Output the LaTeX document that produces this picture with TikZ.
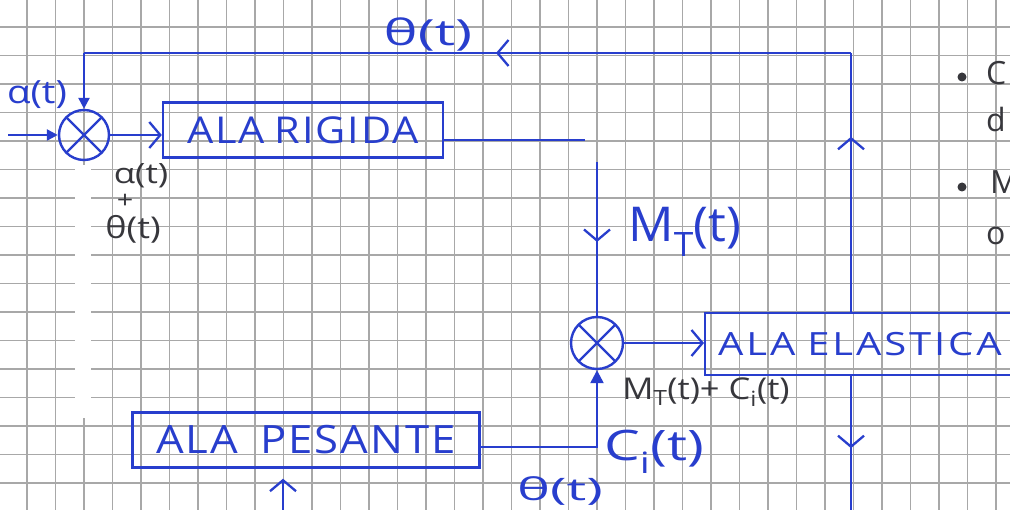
\documentclass[tikz,border=0pt]{standalone}
\usepackage{fontspec}
\setmainfont{Open Sans}
\usetikzlibrary{arrows.meta,decorations.markings}
\definecolor{inkblue}{RGB}{40,62,205}
\definecolor{pencil}{RGB}{55,55,60}
\definecolor{gridgray}{RGB}{168,168,168}
\newcommand{\hf}[2]{\fontsize{#1}{#1}\selectfont\addfontfeature{FakeStretch=#2}}
\tikzset{
  openbarb/.tip={Straight Barb[length=11pt,width=26pt,line width=2.3pt]},
  fillhead/.tip={Triangle[length=11pt,width=11pt]},
  gridline/.style={draw=gridgray, line width=1.1pt},
  ink/.style={draw=inkblue, line width=2.4pt},
  blk/.style={ink, rectangle, inner sep=0pt, text=inkblue},
  sumnode/.style={ink, circle, minimum size=#1, inner sep=0pt,
    path picture={\draw[inkblue,line width=2.4pt]
      (path picture bounding box.north west) -- (path picture bounding box.south east)
      (path picture bounding box.north east) -- (path picture bounding box.south west);}},
  lab/.style={text=inkblue, inner sep=0pt},
  pen/.style={text=pencil, inner sep=0pt},
  midarr/.style={postaction={decorate},
    decoration={markings, mark=at position #1 with {\arrow{openbarb}}}},
}
\begin{document}
\begin{tikzpicture}[x=1pt,y=-1pt]
\useasboundingbox (0,0) rectangle (1010,510);
\clip (0,0) rectangle (1010,510);
\fill[white] (0,0) rectangle (1010,510);
% squared paper
\foreach \k in {0,...,34} \draw[gridline] ({27+28.5*\k},0) -- ({27+28.5*\k},510);
\foreach \k in {0,...,17} \draw[gridline] (0,{27+28.5*\k}) -- (1010,{27+28.5*\k});
\fill[white] (75,165) rectangle (91,418);
% blocks
\node[sumnode=50pt] (c1) at (84,135) {};
\node[sumnode=52pt] (c2) at (597,343) {};
\node[blk, minimum width=280pt, minimum height=55pt,
      font={\hf{37}{1.12}\addfontfeature{LetterSpace=5}}] (rig) at (303,130) {ALA\hspace{10pt}RIGIDA};
\node[blk, anchor=west, minimum height=62pt, text width=310pt, inner xsep=13pt, align=left,
      font={\hf{32}{1.25}\addfontfeature{LetterSpace=9}}] (ela) at (704,344) {ALA\hspace{12pt}ELASTICA};
\node[blk, minimum width=347pt, minimum height=55pt,
      font={\hf{39}{1.12}\addfontfeature{LetterSpace=5}}] (pes) at (306,440) {ALA\hspace{22pt}PESANTE};
% coordinates
\coordinate (inL) at (8,135);
\coordinate (mtc) at (585,140);
\coordinate (mtv) at (597,162);
\coordinate (tr) at (851,53);
\coordinate (tl) at (84,53);
\coordinate (bot) at (851,515);
\coordinate (cil) at (0,447);
\coordinate (pin) at (283,515);
% connectors
\draw[ink, -{fillhead}] (inL) -- (c1.west);
\draw[ink, -{openbarb}] (c1.east) -- (c1.east -| rig.west);
\draw[ink] (rig.east |- mtc) -- (mtc);
\draw[ink, midarr=80pt] (mtv) -- (c2.north);
\draw[ink, -{openbarb}] (c2.east) -- (c2.east -| ela.west);
\draw[ink, midarr=175pt] (ela.north -| tr) -- (tr);
\draw[ink, midarr=355pt] (tr) -- (tl);
\draw[ink, -{fillhead}] (tl) -- (c1.north);
\draw[ink, midarr=72pt] (ela.south -| tr) -- (bot);
\draw[ink, -{Triangle[length=13pt,width=13pt]}] (pes.east |- cil) -| (c2.south);
\draw[ink, -{openbarb}, shorten >=10pt] (pin) -- (pin |- pes.south);
% blue labels
\node[lab, font=\hf{36}{1.6}] (lth) at (428,34) {θ(t)};
\node[lab, font=\hf{32}{1.2}] (lal) at (37,95) {α(t)};
\node[lab, font=\hf{48}{1.05}] (lmt) at (685,232) {M\textsubscript{T}(t)};
\node[lab, font=\hf{42}{1.35}] (lci) at (654,452) {C\textsubscript{i}(t)};
\node[lab, font=\hf{31}{1.8}] (lth2) at (560,491) {θ(t)};
% pencil labels
\node[pen, font=\hf{28}{1.25}] (pa) at (141,176) {α(t)};
\node[pen, font=\hf{24}{1.2}] (pp) at (125,201) {+};
\node[pen, font=\hf{30}{1.2}] (pt) at (133,229) {θ(t)};
\node[pen, font=\hf{30}{1.15}] (pmc) at (706,392) {M\textsubscript{T}(t)+ C\textsubscript{i}(t)};
% margin notes (cut off at the edge)
\fill[pencil] (962,77) circle (4.5pt);
\fill[pencil] (962,187) circle (4.5pt);
\node[pen, anchor=west, font=\hf{32}{1.0}] (m1) at (986,73) {C};
\node[pen, anchor=west, font=\hf{32}{1.0}] (m2) at (986,120) {d};
\node[pen, anchor=west, font=\hf{32}{1.0}] (m3) at (990,182) {M};
\node[pen, anchor=west, font=\hf{32}{1.0}] (m4) at (986,236) {o};
\end{tikzpicture}
\end{document}
